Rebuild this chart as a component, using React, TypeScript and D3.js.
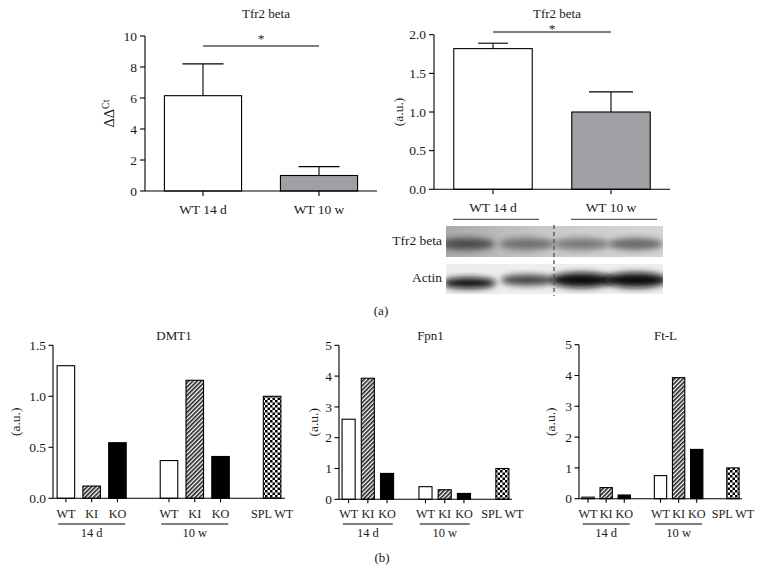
import React from 'react';
import * as d3 from 'd3';

const FONT = "'Liberation Serif', 'DejaVu Serif', serif";

// ---------- Top panels (Tfr2 beta) ----------
const topCategories = ['WT 14 d', 'WT 10 w'];
const tfr2Mrna = [6.15, 1.0];
const tfr2MrnaErr = [8.2, 1.57];
const tfr2MrnaTicks = [0, 2, 4, 6, 8, 10];
const tfr2Protein = [1.82, 1.0];
const tfr2ProteinErr = [1.89, 1.26];
const tfr2ProteinTicks = [0, 0.5, 1.0, 1.5, 2.0];
const topFills = ['#ffffff', '#a0a0a4'];

// ---------- Western blot (band intensities, 4 lanes) ----------
const blotLanes = ['14d-1', '14d-2', '10w-1', '10w-2'];
const tfr2BandIntensity = [0.8, 0.6, 0.55, 0.65];
const actinBandIntensity = [1.0, 0.75, 1.0, 1.0];

// ---------- Bottom panels ----------
const bottomSlots = ['14d-WT', '14d-KI', '14d-KO', 'gap1', '10w-WT', '10w-KI', '10w-KO', 'gap2', 'SPL WT'];
const barSlots = ['14d-WT', '14d-KI', '14d-KO', '10w-WT', '10w-KI', '10w-KO', 'SPL WT'];
const barKinds = ['wt', 'ki', 'ko', 'wt', 'ki', 'ko', 'spl'];
const barLabels = ['WT', 'KI', 'KO', 'WT', 'KI', 'KO', 'SPL WT'];
const groupNames = ['14 d', '10 w'];
const groupSlots = [['14d-WT', '14d-KO'], ['10w-WT', '10w-KO']];
const dmt1Values = [1.30, 0.12, 0.545, 0.37, 1.157, 0.41, 1.0];
const fpn1Values = [2.6, 3.93, 0.84, 0.41, 0.31, 0.19, 1.0];
const ftlValues = [0.05, 0.36, 0.12, 0.75, 3.93, 1.6, 1.0];
const dmt1Ticks = [0, 0.5, 1.0, 1.5];
const fiveTicks = [0, 1, 2, 3, 4, 5];

const kindFill: Record<string, string> = {
  wt: '#ffffff',
  ki: 'url(#hatch)',
  ko: '#000000',
  spl: 'url(#checker)',
};

type TopProps = {
  title: string;
  values: number[];
  errs: number[];
  ticks: number[];
  domainMax: number;
  xRange: [number, number];
  yRange: [number, number];
  fmt: (v: number) => string;
  yLabel: React.ReactNode;
  yLabelX: number;
  yLabelSize: number;
  sigY: number;
  starY: number;
  capW: number[];
  underline?: boolean;
};

function TopPanel(p: TopProps) {
  const x = d3.scaleBand<string>().domain(topCategories).range(p.xRange).paddingInner(0).paddingOuter(0);
  const y = d3.scaleLinear().domain([0, p.domainMax]).range(p.yRange);
  const bw = x.bandwidth() * 0.665;
  const c = (k: string) => (x(k) as number) + x.bandwidth() / 2;
  const y0 = y(0);
  const yTop = y(p.domainMax);
  const midY = (y0 + yTop) / 2;
  return (
    <g>
      <text x={(p.xRange[0] + p.xRange[1]) / 2 + 5} y={18} textAnchor="middle" fontSize={13}>{p.title}</text>
      {p.values.map((v, i) => {
        const k = topCategories[i];
        const cx = c(k);
        return (
          <g key={k}>
            <line x1={cx} x2={cx} y1={y(v)} y2={y(p.errs[i])} stroke="#000" strokeWidth={1.1} />
            <line x1={cx - p.capW[i] / 2} x2={cx + p.capW[i] / 2} y1={y(p.errs[i])} y2={y(p.errs[i])} stroke="#000" strokeWidth={1.1} />
            <rect x={cx - bw / 2} y={y(v)} width={bw} height={y0 - y(v)} fill={topFills[i]} stroke="#000" strokeWidth={1.1} />
          </g>
        );
      })}
      <line x1={p.xRange[0]} x2={p.xRange[0]} y1={y0} y2={yTop} stroke="#000" strokeWidth={1.1} />
      <line x1={p.xRange[0]} x2={p.xRange[1]} y1={y0} y2={y0} stroke="#000" strokeWidth={1.1} />
      {p.ticks.map((t) => (
        <g key={t}>
          <line x1={p.xRange[0] - 5} x2={p.xRange[0]} y1={y(t)} y2={y(t)} stroke="#000" strokeWidth={1.1} />
          <text x={p.xRange[0] - 8} y={y(t)} dy="0.35em" textAnchor="end" fontSize={13.5}>{p.fmt(t)}</text>
        </g>
      ))}
      {topCategories.map((k) => (
        <g key={k}>
          <line x1={c(k)} x2={c(k)} y1={y0} y2={y0 + 5} stroke="#000" strokeWidth={1.1} />
          <text x={c(k)} y={y0 + 22.5} textAnchor="middle" fontSize={13.5}>{k}</text>
          {p.underline && (
            <line x1={c(k) - 40} x2={c(k) + 46} y1={y0 + 30} y2={y0 + 30} stroke="#333" strokeWidth={1} />
          )}
        </g>
      ))}
      <text transform={`translate(${p.yLabelX},${midY}) rotate(-90)`} textAnchor="middle" dy="0.35em" fontSize={p.yLabelSize}>{p.yLabel}</text>
      <line x1={c(topCategories[0])} x2={c(topCategories[1])} y1={p.sigY} y2={p.sigY} stroke="#000" strokeWidth={1.1} />
      <text x={(c(topCategories[0]) + c(topCategories[1])) / 2} y={p.starY} textAnchor="middle" fontSize={13.5}>*</text>
    </g>
  );
}

type BottomProps = {
  title: string;
  values: number[];
  ticks: number[];
  domainMax: number;
  xRange: [number, number];
  yRange: [number, number];
  fmt: (v: number) => string;
  yLabelX: number;
};

function BottomPanel(p: BottomProps) {
  const x = d3.scaleBand<string>().domain(bottomSlots).range(p.xRange).paddingInner(0.32).paddingOuter(0.16);
  const step = x.step();
  const y = d3.scaleLinear().domain([0, p.domainMax]).range(p.yRange);
  const c = (k: string) => (x(k) as number) + x.bandwidth() / 2;
  const y0 = y(0);
  const yTop = y(p.domainMax);
  const midY = (y0 + yTop) / 2;
  return (
    <g>
      <text x={(p.xRange[0] + p.xRange[1]) / 2 + 5} y={340} textAnchor="middle" fontSize={13}>{p.title}</text>
      {p.values.map((v, i) => {
        const k = barSlots[i];
        return (
          <rect key={k} x={x(k)} y={y(v)} width={x.bandwidth()} height={y0 - y(v)} fill={kindFill[barKinds[i]]} stroke="#000" strokeWidth={1.1} />
        );
      })}
      <line x1={p.xRange[0]} x2={p.xRange[0]} y1={y0} y2={yTop} stroke="#000" strokeWidth={1.1} />
      <line x1={p.xRange[0]} x2={p.xRange[1]} y1={y0} y2={y0} stroke="#000" strokeWidth={1.1} />
      {p.ticks.map((t) => (
        <g key={t}>
          <line x1={p.xRange[0] - 4.5} x2={p.xRange[0]} y1={y(t)} y2={y(t)} stroke="#000" strokeWidth={1.1} />
          <text x={p.xRange[0] - 7} y={y(t)} dy="0.35em" textAnchor="end" fontSize={13.5}>{p.fmt(t)}</text>
        </g>
      ))}
      {barSlots.map((k, i) => (
        <g key={k}>
          {i < 6 && <line x1={c(k)} x2={c(k)} y1={y0} y2={y0 + 4} stroke="#000" strokeWidth={1.1} />}
          <text x={c(k)} y={517.5} textAnchor="middle" fontSize={12.2}>{barLabels[i]}</text>
        </g>
      ))}
      {groupNames.map((g, i) => {
        const a = c(groupSlots[i][0]) - 0.3 * step;
        const b = c(groupSlots[i][1]) + 0.3 * step;
        return (
          <g key={g}>
            <line x1={a} x2={b} y1={524} y2={524} stroke="#000" strokeWidth={1} />
            <text x={(a + b) / 2} y={537} textAnchor="middle" fontSize={12.5}>{g}</text>
          </g>
        );
      })}
      <text transform={`translate(${p.yLabelX},${midY}) rotate(-90)`} textAnchor="middle" dy="0.35em" fontSize={13.5}>(a.u.)</text>
    </g>
  );
}

function Blot() {
  const lanes = d3.scaleBand<string>().domain(blotLanes).range([446, 663]).padding(0);
  const lc = (k: string) => (lanes(k) as number) + lanes.bandwidth() / 2;
  const grey = d3.scaleLinear<string>().domain([0, 1]).range(['#d6d6d6', '#111111']);
  return (
    <g>
      <clipPath id="clipTfr">
        <rect x={446} y={226} width={217} height={31} />
      </clipPath>
      <clipPath id="clipAct">
        <rect x={446} y={264} width={217} height={30} />
      </clipPath>
      <g clipPath="url(#clipTfr)">
        <rect x={446} y={226} width={217} height={31} fill="url(#tfrBg)" />
        {blotLanes.map((k, i) => (
          <ellipse key={k} cx={lc(k) + (i === 0 ? -6 : 0)} cy={244} rx={28} ry={6} fill={grey(tfr2BandIntensity[i])} opacity={0.85} filter="url(#blur)" />
        ))}
      </g>
      <g clipPath="url(#clipAct)">
        <rect x={446} y={264} width={217} height={30} fill="#eeeeee" />
        {blotLanes.map((k, i) => (
          <ellipse key={k} cx={lc(k) + (i === 0 ? -4 : 0)} cy={i === 0 ? 283 : 280} rx={i >= 2 ? 32 : 27} ry={i >= 2 ? 7.5 : 5.5} fill={grey(actinBandIntensity[i])} filter="url(#blur)" />
        ))}
      </g>
      <line x1={554} x2={554} y1={225} y2={296} stroke="#555" strokeWidth={1.3} strokeDasharray="4,3" />
      <text x={442} y={245} textAnchor="end" fontSize={13.5}>Tfr2 beta</text>
      <text x={442} y={282} textAnchor="end" fontSize={13.5}>Actin</text>
    </g>
  );
}

export default function App() {
  const fmt1 = d3.format('.1f');
  const fmt0 = d3.format('d');
  return (
    <svg width={768} height={584} style={{ position: 'absolute', left: 0, top: 0, background: '#fff' }} fontFamily={FONT} fill="#1a1a1a">
      <defs>
        <pattern id="hatch" patternUnits="userSpaceOnUse" width={3} height={3} patternTransform="rotate(45)">
          <rect width={3} height={3} fill="#fff" />
          <line x1={0.8} y1={0} x2={0.8} y2={3} stroke="#222" strokeWidth={1.7} />
        </pattern>
        <pattern id="checker" patternUnits="userSpaceOnUse" width={5} height={5}>
          <rect width={5} height={5} fill="#fff" />
          <rect width={2.5} height={2.5} fill="#000" />
          <rect x={2.5} y={2.5} width={2.5} height={2.5} fill="#000" />
        </pattern>
        <linearGradient id="tfrBg" x1="0" x2="1" y1="0" y2="0">
          <stop offset="0" stopColor="#a9a9a9" />
          <stop offset="0.45" stopColor="#c8c8c8" />
          <stop offset="1" stopColor="#d6d6d6" />
        </linearGradient>
        <filter id="blur" x="-50%" y="-50%" width="200%" height="200%">
          <feGaussianBlur stdDeviation={3} />
        </filter>
      </defs>
      <rect width={768} height={584} fill="#fff" />
      <TopPanel
        title="Tfr2 beta"
        values={tfr2Mrna}
        errs={tfr2MrnaErr}
        ticks={tfr2MrnaTicks}
        domainMax={10}
        xRange={[145, 377]}
        yRange={[191, 36]}
        fmt={fmt0}
        yLabel={<>ΔΔ<tspan baselineShift="super" fontSize={10}>Ct</tspan></>}
        yLabelX={109}
        yLabelSize={14.5}
        sigY={46}
        starY={43}
        capW={[41, 41]}
      />
      <TopPanel
        title="Tfr2 beta"
        values={tfr2Protein}
        errs={tfr2ProteinErr}
        ticks={tfr2ProteinTicks}
        domainMax={2}
        xRange={[434, 670]}
        yRange={[189.3, 34.7]}
        fmt={fmt1}
        yLabel="(a.u.)"
        yLabelX={398}
        yLabelSize={13.5}
        sigY={32}
        starY={33}
        capW={[30, 44]}
        underline
      />
      <Blot />
      <text x={381} y={315} textAnchor="middle" fontSize={13}>(a)</text>
      <BottomPanel title="DMT1" values={dmt1Values} ticks={dmt1Ticks} domainMax={1.5} xRange={[53, 285]} yRange={[498.3, 345.3]} fmt={fmt1} yLabelX={15} />
      <BottomPanel title="Fpn1" values={fpn1Values} ticks={fiveTicks} domainMax={5} xRange={[339, 512]} yRange={[499.3, 345.3]} fmt={fmt0} yLabelX={313} />
      <BottomPanel title="Ft-L" values={ftlValues} ticks={fiveTicks} domainMax={5} xRange={[579, 742]} yRange={[498.7, 344.7]} fmt={fmt0} yLabelX={550} />
      <text x={382} y={562} textAnchor="middle" fontSize={13}>(b)</text>
    </svg>
  );
}
